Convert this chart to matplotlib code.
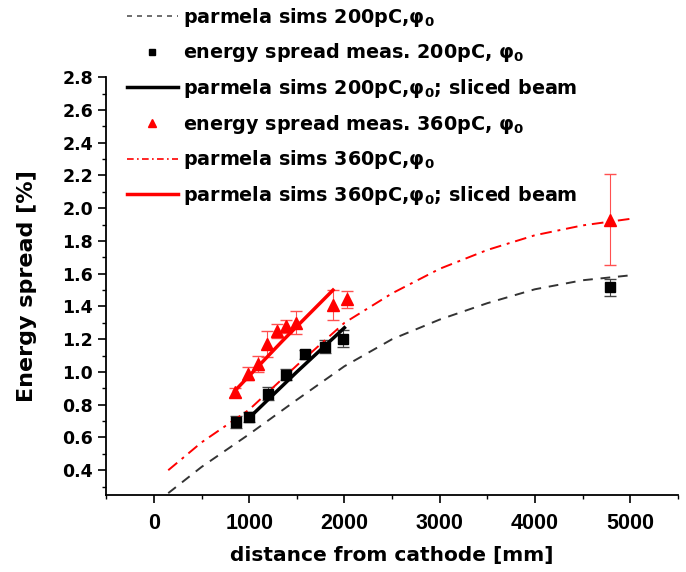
import numpy as np
import matplotlib
matplotlib.use('Agg')
import matplotlib.pyplot as plt
from matplotlib.ticker import MultipleLocator, FormatStrFormatter
from matplotlib.lines import Line2D

plt.rcParams['font.family'] = ['DejaVu Sans']
plt.rcParams['font.weight'] = 'bold'
plt.rcParams['mathtext.fontset'] = 'custom'
plt.rcParams['mathtext.bf'] = 'DejaVu Sans:bold'
plt.rcParams['mathtext.rm'] = 'DejaVu Sans:bold'
plt.rcParams['mathtext.default'] = 'bf'

# measured energy spread, 200pC
x_meas200 = [858, 998, 1195, 1391, 1591, 1791, 1988, 4788]
y_meas200 = [0.695, 0.726, 0.868, 0.984, 1.107, 1.153, 1.204, 1.516]
e_meas200 = [0.035, 0.03, 0.04, 0.035, 0.03, 0.04, 0.05, 0.05]

# measured energy spread, 360pC
x_meas360 = [855, 988, 1093, 1192, 1293, 1391, 1490, 1882, 2030, 4788]
y_meas360 = [0.875, 0.99, 1.05, 1.17, 1.25, 1.279, 1.30, 1.408, 1.443, 1.931]
e_meas360 = [0.03, 0.04, 0.05, 0.08, 0.04, 0.04, 0.07, 0.09, 0.05, 0.28]

# parmela sims, full beam
x_sim = [150, 500, 1000, 1500, 2000, 2500, 3000, 3500, 4000, 4500, 5000]
y_sim200 = [0.26, 0.42, 0.62, 0.83, 1.035, 1.20, 1.32, 1.42, 1.505, 1.56, 1.59]
y_sim360 = [0.40, 0.57, 0.77, 1.04, 1.30, 1.48, 1.63, 1.745, 1.835, 1.895, 1.935]

# parmela sims, sliced beam
x_slice200 = [1000, 1500, 2000]
y_slice200 = [0.72, 1.0, 1.27]
x_slice360 = [850, 1350, 1880]
y_slice360 = [0.885, 1.19, 1.50]

labels = [r'parmela sims 200pC,φ$_0$',
          r'energy spread meas. 200pC, φ$_0$',
          r'parmela sims 200pC,φ$_0$; sliced beam',
          r'energy spread meas. 360pC, φ$_0$',
          r'parmela sims 360pC,φ$_0$',
          r'parmela sims 360pC,φ$_0$; sliced beam']

fig = plt.figure(figsize=(6.86, 5.72), dpi=100)
ax = fig.add_axes([0.155, 0.135, 0.833, 0.73])

dash200 = (0, (5, 4))
dashdot360 = (0, (6, 3, 1.5, 3))

ax.plot(x_sim, y_sim200, color='#333333', linestyle=dash200, linewidth=1.4)
ax.errorbar(x_meas200, y_meas200, yerr=e_meas200, fmt='s', color='black',
            markersize=7, ecolor='#444444', elinewidth=0.8, capsize=4)
ax.plot(x_slice200, y_slice200, color='black', linewidth=2.5)
ax.errorbar(x_meas360, y_meas360, yerr=e_meas360, fmt='^', color='red',
            markersize=8.5, ecolor='#ff5050', elinewidth=0.8, capsize=4)
ax.plot(x_sim, y_sim360, color='red', linestyle=dashdot360, linewidth=1.4)
ax.plot(x_slice360, y_slice360, color='red', linewidth=2.5)

ax.set_xlim(-500, 5500)
ax.set_ylim(0.25, 2.8)
ax.xaxis.set_major_locator(MultipleLocator(1000))
ax.xaxis.set_minor_locator(MultipleLocator(500))
ax.set_yticks(np.arange(0.4, 2.81, 0.2))
ax.yaxis.set_minor_locator(MultipleLocator(0.1))
ax.yaxis.set_major_formatter(FormatStrFormatter('%.1f'))

for s in ['top', 'right']:
    ax.spines[s].set_visible(False)
ax.spines['left'].set_linewidth(1.3)
ax.spines['bottom'].set_linewidth(1.3)
ax.tick_params(which='major', direction='out', length=6, width=1.2)
ax.tick_params(which='minor', direction='out', length=3, width=1.0)
ax.tick_params(axis='y', labelsize=12.5)
ax.tick_params(axis='x', pad=7)
for t in ax.get_xticklabels():
    t.set_fontfamily('Liberation Sans')
    t.set_fontsize(15.5)
    t.set_fontweight('bold')

ax.set_xlabel('distance from cathode [mm]', fontsize=14.5, fontweight='bold', labelpad=9)
ax.set_ylabel('Energy spread [%]', fontsize=16, fontweight='bold', labelpad=18)

handles = [
    Line2D([], [], color='#555555', linestyle=(0, (3, 3)), linewidth=1.2),
    Line2D([], [], color='black', marker='s', linestyle='none', markersize=5),
    Line2D([], [], color='black', linewidth=2.5),
    Line2D([], [], color='red', marker='^', linestyle='none', markersize=6),
    Line2D([], [], color='red', linestyle=(0, (4, 2, 1, 2)), linewidth=1.2),
    Line2D([], [], color='red', linewidth=2.5),
]
fig.legend(handles, labels, loc='upper left', bbox_to_anchor=(0.185, 0.99),
           frameon=False, fontsize=13.8, labelspacing=0.66, handlelength=2.65,
           handletextpad=0.3, borderpad=0, borderaxespad=0)

plt.savefig('out.png', dpi=100)
